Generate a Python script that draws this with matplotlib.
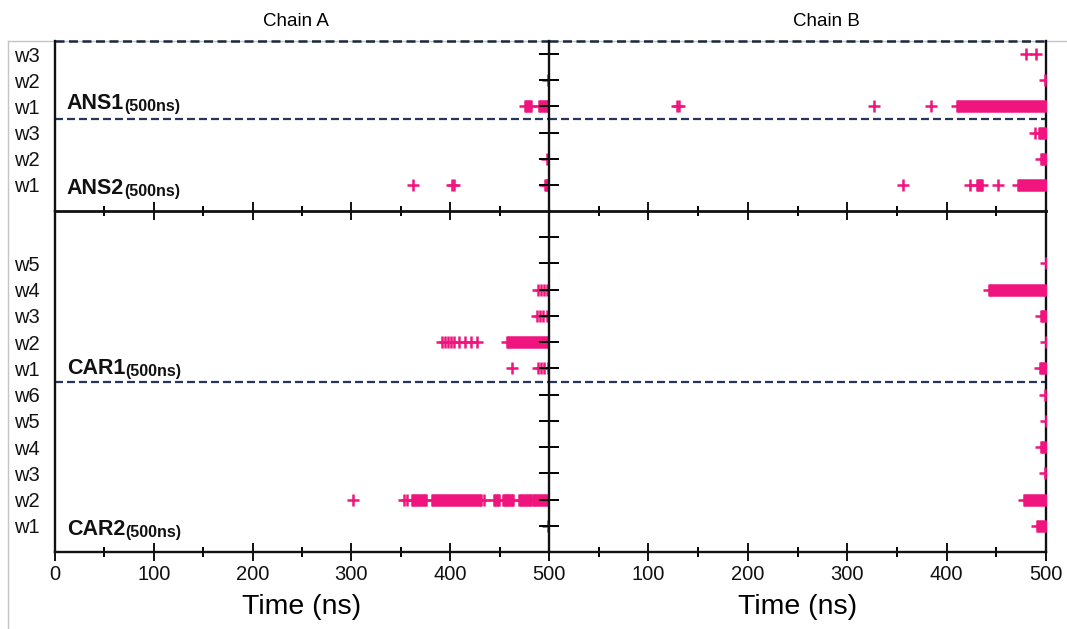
import matplotlib
matplotlib.use('Agg')
import matplotlib.pyplot as plt
from matplotlib.lines import Line2D
from matplotlib.ticker import MultipleLocator

plt.rcParams['font.family'] = ['Liberation Sans', 'DejaVu Sans']

# ---------------- data (time in ns) ----------------
# each entry: water label -> (single events, dense runs (start, end))
ANS1_A = {'w1': ([], [(476, 482), (490, 499)]), 'w2': ([499], []), 'w3': ([], [])}
ANS2_A = {'w1': ([362, 402, 404], [(496, 499)]), 'w2': ([498], []), 'w3': ([], [])}
ANS1_B = {'w1': ([129, 131, 327, 384], [(410, 500)]), 'w2': ([499], []), 'w3': ([480, 490], [])}
ANS2_B = {'w1': ([356, 424, 452], [(431, 436), (472, 500)]), 'w2': ([], [(495, 500)]),
          'w3': ([489], [(493, 500)])}

CAR1_A = {'w1': ([463, 489, 492, 495, 499], []),
          'w2': ([392, 395, 398, 401, 404, 409, 415, 421, 427], [(457, 500)]),
          'w3': ([488, 491, 494, 498], []), 'w4': ([489, 492, 495, 498], []), 'w5': ([], [])}
CAR2_A = {'w1': ([499], []),
          'w2': ([302, 353, 356, 434], [(361, 375), (382, 431), (444, 449), (453, 457),
                                         (459, 464), (470, 482), (484, 500)]),
          'w3': ([], []), 'w4': ([], []), 'w5': ([], []), 'w6': ([], [])}
CAR1_B = {'w1': ([], [(494, 500)]), 'w2': ([500], []), 'w3': ([], [(495, 500)]),
          'w4': ([], [(443, 500)]), 'w5': ([500], [])}
CAR2_B = {'w1': ([], [(491, 500)]), 'w2': ([], [(478, 500)]), 'w3': ([499], []),
          'w4': ([], [(495, 500)]), 'w5': ([500], []), 'w6': ([499], [])}

ans_ticklabels = ['w1', 'w2', 'w3', 'w1', 'w2', 'w3']
car_ticklabels = ['w1', 'w2', 'w3', 'w4', 'w5', 'w6', 'w1', 'w2', 'w3', 'w4', 'w5', '']
chains = ['Chain A', 'Chain B']
xticks = [0, 100, 200, 300, 400, 500]

# ---------------- style ----------------
PINK = '#F0147E'
NAVY = '#27365A'
W, H = 1067, 629
fig = plt.figure(figsize=(W / 100, H / 100), dpi=100)


def fx(px):
    return px / W


def fy(py):
    return 1 - py / H


xL0, xL1, xR1 = 55, 549, 1046
yT0, yM, yB = 41, 211, 552

axes = {}
for c, (a, b) in enumerate([(xL0, xL1), (xL1, xR1)]):
    axes[(0, c)] = fig.add_axes([fx(a), fy(yM), fx(b - a), fy(yT0) - fy(yM)])
    axes[(1, c)] = fig.add_axes([fx(a), fy(yB), fx(b - a), fy(yM) - fy(yB)])

MS = 9
MEW = 1.8


def draw_group(ax, data, base):
    for i, key in enumerate(sorted(data.keys())):
        y = base + i + 1
        pts, runs = data[key]
        for (s, e) in runs:
            ax.hlines(y, s, e, color=PINK, lw=MS, capstyle='butt', zorder=3)
            ax.plot([s, e], [y, y], ls='none', marker='+', ms=MS, mew=MEW, color=PINK, zorder=3)
        if pts:
            ax.plot(pts, [y] * len(pts), ls='none', marker='+', ms=MS, mew=MEW,
                    color=PINK, zorder=3)


draw_group(axes[(0, 0)], ANS2_A, 0)
draw_group(axes[(0, 0)], ANS1_A, 3)
draw_group(axes[(0, 1)], ANS2_B, 0)
draw_group(axes[(0, 1)], ANS1_B, 3)
draw_group(axes[(1, 0)], CAR2_A, 0)
draw_group(axes[(1, 0)], CAR1_A, 6)
draw_group(axes[(1, 1)], CAR2_B, 0)
draw_group(axes[(1, 1)], CAR1_B, 6)

dash = (0, (3.6, 1.8))
for (r, c), ax in axes.items():
    ax.patch.set_visible(False)
    ax.set_xlim(0, 500)
    ax.xaxis.set_major_locator(MultipleLocator(100))
    ax.xaxis.set_minor_locator(MultipleLocator(50))
    ax.tick_params(axis='x', which='major', direction='inout', length=13, width=1.4,
                   labelsize=14.5, pad=3, colors='#111111')
    ax.tick_params(axis='x', which='minor', direction='inout', length=7, width=1.4)
    for s in ax.spines.values():
        s.set_linewidth(1.7)
        s.set_color('#111111')
    ax.spines['top'].set_visible(False)
    if r == 0:
        ax.set_ylim(0, 6.5)
        ax.set_yticks(range(1, 7))
        ax.set_yticklabels(ans_ticklabels)
        ax.axhline(3.5, color=NAVY, lw=1.6, ls=dash, zorder=2)
        ax.axhline(6.5, color='#1c2640', lw=1.8, ls=dash, zorder=2, clip_on=False)
        ax.tick_params(axis='x', labelbottom=False)
        ax.spines['bottom'].set_linewidth(2.0)
    else:
        ax.set_ylim(0, 13)
        ax.set_yticks(range(1, 13))
        ax.set_yticklabels(car_ticklabels)
        ax.axhline(6.5, color=NAVY, lw=1.6, ls=dash, zorder=2)
        ax.set_xticks(xticks)
        ax.set_xlabel('Time (ns)', fontsize=20.5, labelpad=7)
        if c == 1:
            ax.set_xticklabels([''] + [str(v) for v in xticks[1:]])
    if c == 0:
        ax.spines['right'].set_visible(False)
        ax.tick_params(axis='y', length=0, labelsize=14.5, pad=11, colors='#111111')
    else:
        ax.tick_params(axis='y', direction='inout', length=14, width=1.4,
                       labelleft=False)

# system labels in chain A panels
labels = [((0, 0), 4.1, 'ANS1'), ((0, 0), 0.85, 'ANS2'),
          ((1, 0), 7.0, 'CAR1'), ((1, 0), 0.85, 'CAR2')]
for key, yv, name in labels:
    ax = axes[key]
    t = ax.text(12, yv, name, fontsize=15.5, fontweight='bold', va='center', ha='left',
                color='#111111', zorder=4)
    ax.annotate('(500ns)', xy=(1, 0), xycoords=t, va='bottom', ha='left',
                fontsize=11.5, fontweight='bold', color='#111111')

# header row and table borders
fig.text(fx(296), fy(22), chains[0], ha='center', va='center', fontsize=13.5)
fig.text(fx(826), fy(22), chains[1], ha='center', va='center', fontsize=13.5)
fig.add_artist(Line2D([fx(8), 1], [fy(41), fy(41)], color='#c4c4c4', lw=1, zorder=0))
fig.add_artist(Line2D([fx(8), fx(8)], [0, fy(41)], color='#c4c4c4', lw=1, zorder=0))

fig.savefig('out.png', dpi=100)
